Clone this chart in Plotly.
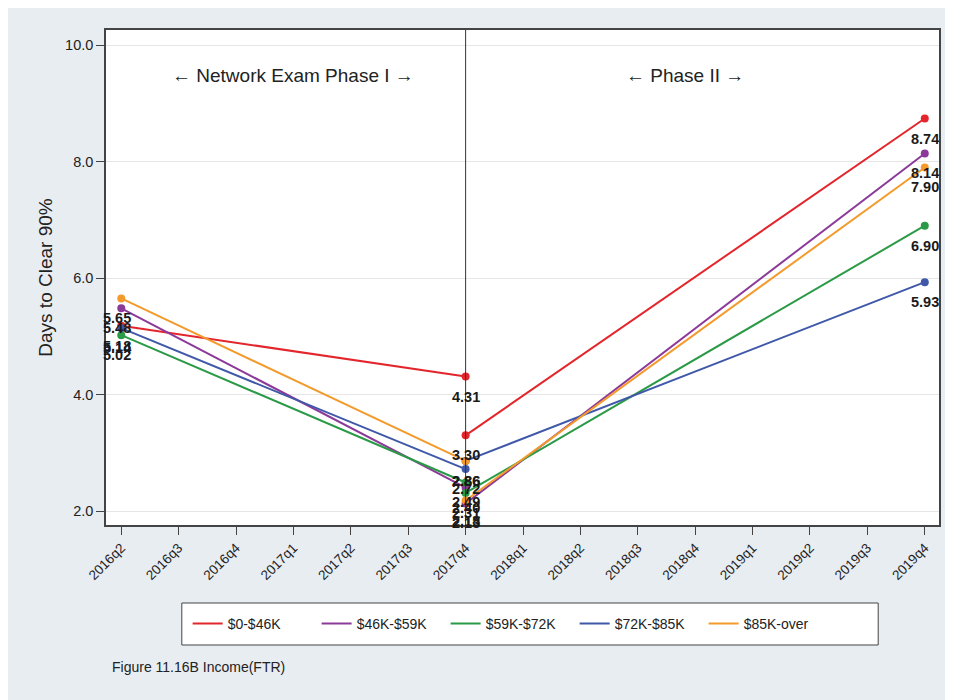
import plotly.graph_objects as go

quarters = ["2016q2", "2016q3", "2016q4", "2017q1", "2017q2", "2017q3", "2017q4",
            "2018q1", "2018q2", "2018q3", "2018q4", "2019q1", "2019q2", "2019q3", "2019q4"]

series_names = ["$0-$46K", "$46K-$59K", "$59K-$72K", "$72K-$85K", "$85K-over"]
# Phase I: 2016q2 -> 2017q4 ; Phase II: 2017q4 -> 2019q4
phase1_start = [5.18, 5.48, 5.02, 5.14, 5.65]
phase1_end = [4.31, 2.40, 2.49, 2.72, 2.86]
phase2_start = [3.30, 2.13, 2.31, 2.86, 2.18]
phase2_end = [8.74, 8.14, 6.90, 5.93, 7.90]
colors = ["#e3262b", "#8c3a99", "#2a9a46", "#3f58a8", "#f39a2b"]

y_ticks = [2, 4, 6, 8, 10]
y_ticktext = ["2.0", "4.0", "6.0", "8.0", "10.0"]

FONT = "Liberation Sans, Arial, sans-serif"

fig = go.Figure()
for i, name in enumerate(series_names):
    xs = [quarters[0], quarters[6], None, quarters[6], quarters[14]]
    ys = [phase1_start[i], phase1_end[i], None, phase2_start[i], phase2_end[i]]
    fig.add_trace(go.Scatter(
        x=xs, y=ys, mode="lines+markers",
        line=dict(color=colors[i], width=2),
        marker=dict(color=colors[i], size=8),
        showlegend=False, cliponaxis=False, connectgaps=False,
    ))
    for xv, yv in zip(xs, ys):
        if yv is None:
            continue
        fig.add_annotation(x=xv, y=yv, xref="x", yref="y", text=f"{yv:.2f}",
                           showarrow=False, yshift=-20,
                           xshift=-4 if xv == quarters[0] else 0,
                           font=dict(family=FONT, size=14.5, color="#1a1a1a", weight="bold"))
# legend entries (line only)
for i, name in enumerate(series_names):
    fig.add_trace(go.Scatter(
        x=[None], y=[None], mode="lines", name=name,
        line=dict(color=colors[i], width=2), showlegend=True,
    ))

fig.add_shape(type="line", xref="x", yref="paper",
              x0=quarters.index("2017q4"), x1=quarters.index("2017q4"), y0=0, y1=1,
              line=dict(color="#333333", width=1))

# legend frame
fig.add_shape(type="rect", xref="paper", yref="paper",
              x0=0.091, x1=0.927, y0=-0.2424, y1=-0.1576,
              line=dict(color="#444444", width=1), fillcolor="white", layer="below")

fig.add_annotation(x=3, y=0.933, xref="x", yref="paper",
                   text="\u2190 Network Exam Phase I \u2192", showarrow=False,
                   font=dict(family=FONT, size=19, color="#222222"))
fig.add_annotation(x=9.82, y=0.933, xref="x", yref="paper",
                   text="\u2190 Phase II \u2192", showarrow=False,
                   font=dict(family=FONT, size=19, color="#222222"))

fig.add_annotation(x=0.005, y=-0.287, xref="paper", yref="paper", xanchor="left",
                   yanchor="middle", text="Figure 11.16B Income(FTR)", showarrow=False,
                   font=dict(family=FONT, size=14, color="#222222"))

fig.update_layout(
    width=945, height=692,
    margin=dict(l=98, r=12, t=22, b=175),
    paper_bgcolor="#e8edf2", plot_bgcolor="white",
    font=dict(family=FONT, size=12, color="#222222"),
    legend=dict(orientation="h", x=0.098, xanchor="left", y=-0.2, yanchor="middle",
                bgcolor="rgba(0,0,0,0)", borderwidth=0,
                font=dict(family=FONT, size=14, color="#222222"),
                entrywidth=84, entrywidthmode="pixels", itemwidth=30),
)
fig.update_xaxes(type="category", categoryorder="array", categoryarray=quarters,
                 range=[-0.266, 14.248], tickvals=quarters, tickangle=-45,
                 ticks="outside", ticklen=8, tickcolor="#444444",
                 showgrid=False, showline=True, linecolor="#444444", linewidth=1.5,
                 mirror=True, zeroline=False,
                 tickfont=dict(family=FONT, size=13.5, color="#222222"))
fig.update_yaxes(range=[1.76, 10.26], tickvals=y_ticks, ticktext=y_ticktext,
                 ticks="outside", ticklen=8, tickcolor="#444444",
                 showgrid=True, gridcolor="#e6e6e6", gridwidth=1,
                 showline=True, linecolor="#444444", linewidth=1.5, mirror=True,
                 zeroline=False,
                 title=dict(text="Days to Clear 90%", font=dict(family=FONT, size=19, color="#222222"),
                            standoff=7),
                 tickfont=dict(family=FONT, size=14.5, color="#222222"))

fig.write_html("out.html")
